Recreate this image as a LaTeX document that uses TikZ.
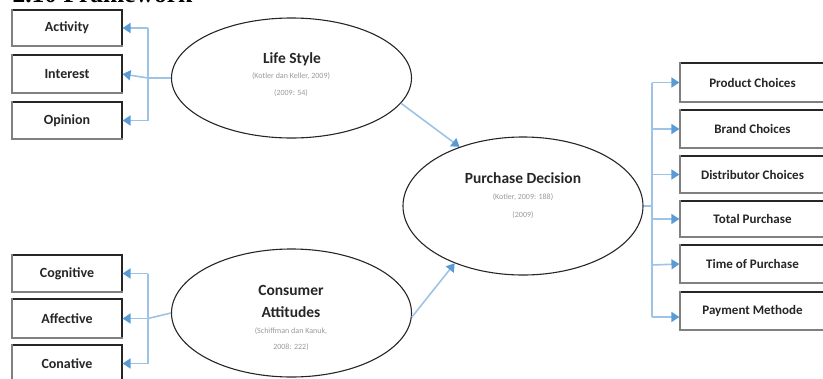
\documentclass[tikz,border=0pt]{standalone}
\usepackage{fontspec}
\setmainfont{Carlito}
\newfontfamily\serifhead{Liberation Serif}
\usetikzlibrary{arrows.meta,shapes.geometric}
\definecolor{arrowblue}{HTML}{5B9BD5}
\definecolor{linkblue}{HTML}{9DC3E6}
\definecolor{txtdark}{HTML}{262626}
\begin{document}
\begin{tikzpicture}[x=1pt,y=-1pt,
  boxnode/.style={draw=black!85, line width=1.1pt, minimum width=110pt, inner sep=0pt,
    font=\fontsize{14}{16}\selectfont\bfseries, text=txtdark, fill=white},
  rbox/.style={boxnode, minimum width=145pt, font=\fontsize{13}{15}\selectfont\bfseries},
  ellnode/.style={draw=black!85, line width=1.1pt, ellipse, minimum width=240pt, inner sep=0pt},
  ttl/.style={font=\fontsize{15.5}{18}\selectfont\bfseries, text=txtdark},
  cite/.style={font=\fontsize{8}{9}\selectfont, text=black!40},
  link/.style={draw=linkblue, line width=1.6pt},
  arr/.style={draw=linkblue, line width=1.6pt, -{Triangle[length=8pt,width=10pt,color=arrowblue]}},
]
\useasboundingbox (0,0) rectangle (823,378);
\node[anchor=base west, font=\serifhead\fontsize{25.5}{27}\selectfont\bfseries] (head) at (9,2) {2.10 Framework};

% left top boxes
\node[boxnode, minimum height=36pt] (act) at (67,28) {Activity};
\node[boxnode, minimum height=38pt] (int) at (67,74) {Interest};
\node[boxnode, minimum height=37pt] (opi) at (67,120.5) {Opinion};
% left bottom boxes
\node[boxnode, minimum height=37pt] (cog) at (67,273.5) {Cognitive};
\node[boxnode, minimum height=39pt] (aff) at (67,318.5) {Affective};
\node[boxnode, minimum height=37pt] (con) at (67,363.5) {Conative};
% right boxes
\node[rbox, minimum height=39pt] (prod) at (752.5,82.5) {Product Choices};
\node[rbox, minimum height=38pt] (brand) at (752.5,129) {Brand Choices};
\node[rbox, minimum height=37pt] (dist) at (752.5,174.5) {Distributor Choices};
\node[rbox, minimum height=36pt] (tot) at (752.5,219) {Total Purchase};
\node[rbox, minimum height=38pt] (time) at (752.5,264) {Time of Purchase};
\node[rbox, minimum height=38pt] (pay) at (752.5,311) {Payment Methode};

% shadow edges of boxes
\foreach \n in {act,int,opi,cog,aff,con,prod,brand,dist,tot,time,pay}{
  \draw[black!50, line width=2.2pt] ([xshift=0.6pt]\n.north west) -- ([xshift=0.6pt,yshift=0.6pt]\n.south west) -- ([yshift=0.6pt]\n.south east);
}

% ellipses
\node[ellnode, minimum height=120pt] (ls) at (291.5,78) {};
\node[ellnode, minimum height=128pt] (ca) at (291.5,313) {};
\node[ellnode, minimum height=138pt] (pd) at (523,206) {};

% ellipse texts
\node[ttl] (lst) at (292,59) {Life Style};
\node[cite] (lsc1) at (291,76) {(Kotler dan Keller, 2009)};
\node[cite] (lsc2) at (291,93) {(2009: 54)};
\node[ttl] (cat1) at (291,290) {Consumer};
\node[ttl] (cat2) at (291,312) {Attitudes};
\node[cite] (cac1) at (291,331) {(Schiffman dan Kanuk,};
\node[cite] (cac2) at (291,347) {2008: 222)};
\node[ttl] (pdt) at (523,178) {Purchase Decision};
\node[cite] (pdc1) at (523,197) {(Kotler, 2009: 188)};
\node[cite] (pdc2) at (523,215) {(2009)};

% life style bracket
\coordinate (lsb) at (148,78);
\coordinate (lsbt) at (148,28);
\coordinate (lsbb) at (148,120.5);
\draw[link] (ls.west) -- (lsb);
\draw[link] (lsbt) -- (lsbb);
\draw[arr] (lsbt) -- (act.east);
\draw[arr] (lsb) -- (int.east);
\draw[arr] (lsbb) -- (opi.east);

% consumer attitudes bracket
\coordinate (cab) at (148,318.5);
\coordinate (cabt) at (148,273.5);
\coordinate (cabb) at (148,363.5);
\draw[link] (ca.west) -- (cab);
\draw[link] (cabt) -- (cabb);
\draw[arr] (cabt) -- (cog.east);
\draw[arr] (cab) -- (aff.east);
\draw[arr] (cabb) -- (con.east);

% to purchase decision
\draw[arr] (ls.-13) -- (pd.137);
\draw[arr] (ca.-2) -- (pd.220);

% purchase decision bracket
\coordinate (pdb) at (652,206);
\coordinate (pdbt) at (652,82.5);
\coordinate (pdbb) at (652,317);
\draw[link] (pd.east) -- (pdb);
\draw[link] (pdbt) -- (pdbb);
\draw[arr] (pdbt) -- (prod.west);
\draw[arr] (652,129) -- (brand.west);
\draw[arr] (652,174.5) -- (dist.west);
\draw[arr] (652,219) -- (tot.west);
\draw[arr] (652,265) -- (time.west);
\draw[arr] (pdbb) -- (pay.west |- pdbb);
\end{tikzpicture}
\end{document}
